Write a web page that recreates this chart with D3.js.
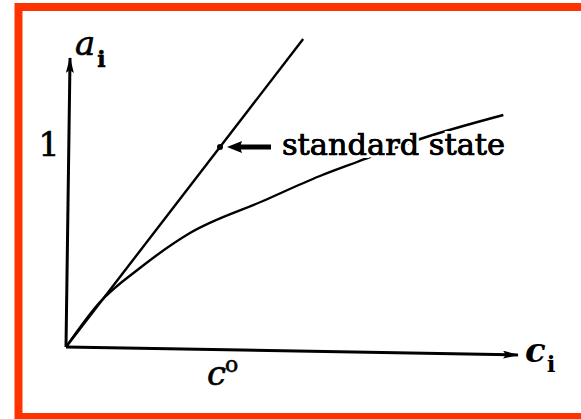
<!DOCTYPE html>
<html>
<head>
<meta charset="utf-8">
<script src="https://cdn.jsdelivr.net/npm/d3@7"></script>
<style>
  html, body { margin: 0; padding: 0; background: #fff; }
  svg { display: block; }
</style>
</head>
<body>
<svg id="chart" width="581" height="419"></svg>
<script>
// Concentration (c_i / c°) and activity values along the real-solution curve
const curveC = [0, 0.221, 0.48, 0.805, 1.279, 1.649, 1.89, 2.30, 2.84];
const curveA = [0, 0.225, 0.395, 0.57, 0.73, 0.855, 0.925, 1.04, 1.16];
// Ideal (Henry's law) reference line: a_i = c_i / c°
const idealC = [0, 1.54];
const idealA = [0, 1.54];
// Standard state point
const standardC = [1];
const standardA = [1];
// Axis extents (arrow tips)
const axisMaxC = [2.935];
const axisMaxA = [1.445];

const svg = d3.select("#chart");

// Scales: origin at (66, 347), c° at x=220, a=1 at y=147
const x = d3.scaleLinear().domain([0, 1]).range([66, 220]);
const y = d3.scaleLinear().domain([0, 1]).range([347, 147]);

// Frame
svg.append("rect")
  .attr("x", 18.5).attr("y", 7)
  .attr("width", 600).attr("height", 410)
  .attr("fill", "#fff")
  .attr("stroke", "#ff3300")
  .attr("stroke-width", 8);

const g = svg.append("g");

// Arrowhead marker for the axes
const defs = svg.append("defs");
defs.append("marker")
  .attr("id", "axisHead")
  .attr("viewBox", "0 0 16 8")
  .attr("refX", 15).attr("refY", 4)
  .attr("markerWidth", 16).attr("markerHeight", 8)
  .attr("markerUnits", "userSpaceOnUse")
  .attr("orient", "auto")
  .append("path")
  .attr("d", "M0,0 L16,4 L0,8 L3,4 Z")
  .attr("fill", "#000");

// x axis (c_i), slightly tilted as drawn
g.append("line")
  .attr("x1", x(0)).attr("y1", y(0))
  .attr("x2", x(axisMaxC[0])).attr("y2", y(0))
  .attr("stroke", "#000").attr("stroke-width", 3)
  .attr("marker-end", "url(#axisHead)")
  .attr("transform", `rotate(1.0, ${x(0)}, ${y(0)})`);

// y axis (a_i)
g.append("line")
  .attr("x1", x(0)).attr("y1", y(0))
  .attr("x2", x(0)).attr("y2", y(axisMaxA[0]))
  .attr("stroke", "#000").attr("stroke-width", 3)
  .attr("marker-end", "url(#axisHead)")
  .attr("transform", `rotate(0.8, ${x(0)}, ${y(0)})`);

// Ideal line
const line = d3.line().x(d => x(d[0])).y(d => y(d[1]));
g.append("path")
  .datum(idealC.map((c, i) => [c, idealA[i]]))
  .attr("d", line)
  .attr("fill", "none")
  .attr("stroke", "#000")
  .attr("stroke-width", 2.4);

// Real curve
const curveLine = d3.line().x(d => x(d[0])).y(d => y(d[1])).curve(d3.curveMonotoneX);
g.append("path")
  .datum(curveC.map((c, i) => [c, curveA[i]]))
  .attr("d", curveLine)
  .attr("fill", "none")
  .attr("stroke", "#000")
  .attr("stroke-width", 2.4);

// Standard state dot
g.selectAll("circle.std")
  .data(standardC.map((c, i) => [c, standardA[i]]))
  .join("circle")
  .attr("class", "std")
  .attr("cx", d => x(d[0])).attr("cy", d => y(d[1]))
  .attr("r", 3).attr("fill", "#000");

// Pointer arrow to the standard state
const sx = x(standardC[0]), sy = y(standardA[0]);
g.append("line")
  .attr("x1", sx + 18).attr("y1", sy)
  .attr("x2", sx + 51).attr("y2", sy)
  .attr("stroke", "#000").attr("stroke-width", 5);
g.append("path")
  .attr("d", `M${sx + 7},${sy} L${sx + 22},${sy - 6} L${sx + 20},${sy} L${sx + 22},${sy + 6} Z`)
  .attr("fill", "#000");

const serif = "'DejaVu Serif', 'Liberation Serif', serif";

// Label: white halo copy first so the curve breaks behind it, then the ink
const labelText = "standard state";
[["#fff", 6], ["#000", 0.7]].forEach(([strokeCol, sw]) => {
  g.append("text")
    .attr("x", sx + 62).attr("y", sy + 8)
    .attr("font-family", serif)
    .attr("font-size", 30)
    .attr("fill", "#000")
    .attr("stroke", strokeCol).attr("stroke-width", sw)
    .attr("paint-order", "stroke")
    .attr("textLength", 223)
    .attr("lengthAdjust", "spacingAndGlyphs")
    .text(labelText);
});

// Tick label "1" on the activity axis
g.append("text")
  .attr("x", 49).attr("y", y(1) + 9)
  .attr("text-anchor", "middle")
  .attr("font-family", serif)
  .attr("font-size", 33)
  .attr("fill", "#000")
  .attr("stroke", "#000").attr("stroke-width", 0.7)
  .text("1");

// Axis titles
const aLbl = g.append("text")
  .attr("x", 75).attr("y", 55)
  .attr("font-family", serif)
  .attr("fill", "#000")
  .attr("stroke", "#000").attr("stroke-width", 0.6);
aLbl.append("tspan").attr("font-style", "italic").attr("font-size", 34).text("a");
aLbl.append("tspan").attr("font-size", 22).attr("font-weight", "bold").attr("dy", 12).attr("dx", 2).text("i");

const cLbl = g.append("text")
  .attr("x", 525).attr("y", 362)
  .attr("font-family", serif)
  .attr("fill", "#000");
cLbl.append("tspan").attr("font-style", "italic").attr("font-weight", "bold").attr("font-size", 34).text("c");
cLbl.append("tspan").attr("font-size", 23).attr("font-weight", "bold").attr("dy", 10).attr("dx", 1).text("i");

const c0 = g.append("text")
  .attr("x", 207).attr("y", 385)
  .attr("font-family", serif)
  .attr("fill", "#000")
  .attr("stroke", "#000").attr("stroke-width", 0.6);
c0.append("tspan").attr("font-style", "italic").attr("font-size", 34).text("c");
c0.append("tspan").attr("font-size", 22).attr("dy", -13).attr("dx", -1).text("o");
</script>
</body>
</html>
